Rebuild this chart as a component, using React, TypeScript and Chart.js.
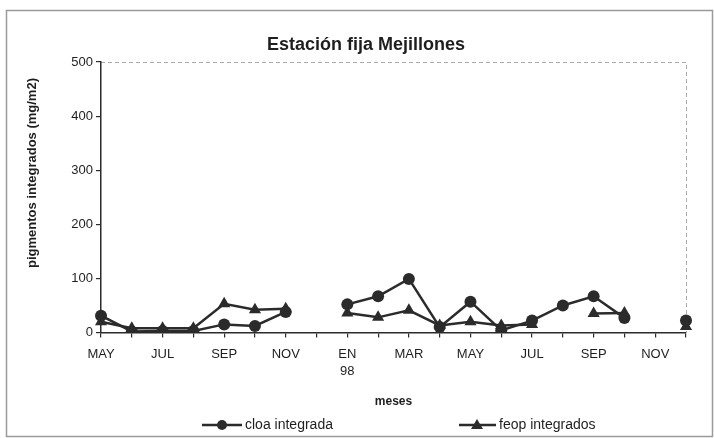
import React, { useEffect, useRef } from 'react';
import { Chart, registerables } from 'chart.js';
Chart.register(...registerables);

const FONT = '"Liberation Sans", Arial, sans-serif';

const TITLE = 'Estación fija Mejillones';
const Y_TITLE = 'pigmentos integrados (mg/m2)';
const X_TITLE = 'meses';

const months: (string | string[])[] = [
  'MAY', '', 'JUL', '', 'SEP', '', 'NOV', '', ['EN', '98'], '',
  'MAR', '', 'MAY', '', 'JUL', '', 'SEP', '', 'NOV', '',
];

const cloaLabel = 'cloa integrada';
const feopLabel = 'feop integrados';

const cloa = [31, 2, 3, 3, 15, 12, 38, null, 52, 67, 99, 10, 57, 4, 22, 50, 67, 27, null, 22];
const feop = [20, 8, 8, 8, 53, 42, 44, null, 36, 28, 41, 13, 20, 13, 15, null, 35, 36, null, 11];

const yMin = 0;
const yMax = 500;
const yStep = 100;

const INK = '#2b2b2b';

const decorPlugin = {
  id: 'decor',
  beforeDraw(chart: any) {
    const { ctx, chartArea } = chart;
    ctx.save();
    ctx.fillStyle = '#ffffff';
    ctx.fillRect(0, 0, chart.width, chart.height);
    // outer frame
    ctx.strokeStyle = '#9a9a9a';
    ctx.lineWidth = 1.5;
    ctx.strokeRect(6.5, 10.5, 706, 426);
    // plot frame (top and right)
    ctx.strokeStyle = '#aaaaaa';
    ctx.lineWidth = 1;
    ctx.setLineDash([4, 3]);
    ctx.beginPath();
    ctx.moveTo(chartArea.left, Math.round(chartArea.top) + 0.5);
    ctx.lineTo(Math.round(chartArea.right) + 0.5, Math.round(chartArea.top) + 0.5);
    ctx.lineTo(Math.round(chartArea.right) + 0.5, chartArea.bottom);
    ctx.stroke();
    ctx.setLineDash([]);
    ctx.restore();
  },
  afterDraw(chart: any) {
    const { ctx } = chart;
    ctx.save();
    // title
    ctx.fillStyle = '#1e1e1e';
    ctx.font = `bold 18px ${FONT}`;
    ctx.textAlign = 'center';
    ctx.textBaseline = 'middle';
    ctx.fillText(TITLE, 366, 45);
    // y title
    ctx.save();
    ctx.translate(32, 173);
    ctx.rotate(-Math.PI / 2);
    ctx.font = `bold 13px ${FONT}`;
    ctx.fillText(Y_TITLE, 0, 0);
    ctx.restore();
    // legend
    const ly = 425;
    ctx.strokeStyle = INK;
    ctx.fillStyle = INK;
    ctx.lineWidth = 2.5;
    // item 1
    ctx.beginPath();
    ctx.moveTo(202, ly);
    ctx.lineTo(242, ly);
    ctx.stroke();
    ctx.beginPath();
    ctx.arc(222, ly, 5, 0, Math.PI * 2);
    ctx.fill();
    // item 2
    ctx.beginPath();
    ctx.moveTo(459, ly);
    ctx.lineTo(496, ly);
    ctx.stroke();
    ctx.beginPath();
    ctx.moveTo(477, ly - 6);
    ctx.lineTo(483, ly + 4);
    ctx.lineTo(471, ly + 4);
    ctx.closePath();
    ctx.fill();
    ctx.fillStyle = '#1e1e1e';
    ctx.font = `14px ${FONT}`;
    ctx.textAlign = 'left';
    ctx.fillText(cloaLabel, 245, ly);
    ctx.fillText(feopLabel, 499, ly);
    ctx.restore();
  },
};

export default function App() {
  const ref = useRef<HTMLCanvasElement>(null);
  useEffect(() => {
    const chart = new Chart(ref.current!, {
      type: 'line',
      data: {
        labels: months as any,
        datasets: [
          {
            label: cloaLabel,
            data: cloa,
            borderColor: INK,
            backgroundColor: INK,
            borderWidth: 2.5,
            pointStyle: 'circle',
            pointRadius: 6,
            pointBorderWidth: 0,
            spanGaps: false,
            tension: 0,
          },
          {
            label: feopLabel,
            data: feop,
            borderColor: INK,
            backgroundColor: INK,
            borderWidth: 2.5,
            pointStyle: 'triangle',
            pointRadius: 7,
            pointBorderWidth: 0,
            spanGaps: false,
            tension: 0,
          },
        ],
      },
      options: {
        responsive: false,
        animation: false,
        layout: { padding: { left: 0, right: 28, top: 62, bottom: 25 } },
        plugins: {
          legend: { display: false },
          title: { display: false },
          tooltip: { enabled: false },
        },
        scales: {
          x: {
            type: 'category',
            offset: false,
            grid: { drawOnChartArea: false, drawTicks: true, tickLength: 5, color: INK, lineWidth: 1.2 },
            border: { color: INK, width: 1.5 },
            ticks: {
              autoSkip: false,
              maxRotation: 0,
              minRotation: 0,
              padding: 8,
              color: '#1e1e1e',
              font: { family: FONT, size: 13, lineHeight: 1.35 },
            },
            title: {
              display: true,
              text: X_TITLE,
              color: '#1e1e1e',
              font: { family: FONT, size: 12, weight: 'bold' },
              padding: { top: 14, bottom: 4 },
            },
            afterFit: (s: any) => { s.height = 80.5; },
          },
          y: {
            min: yMin,
            max: yMax,
            grid: { drawOnChartArea: false, drawTicks: true, tickLength: 5, color: INK, lineWidth: 1.2 },
            border: { color: INK, width: 1.5 },
            ticks: {
              stepSize: yStep,
              padding: 3,
              color: '#1e1e1e',
              font: { family: FONT, size: 13 },
            },
            afterFit: (s: any) => { s.width = 101; },
          },
        },
      },
      plugins: [decorPlugin],
    });
    return () => chart.destroy();
  }, []);
  return (
    <div style={{ position: 'fixed', left: 0, top: 0, width: 714, height: 438, background: '#fff' }}>
      <canvas ref={ref} width={714} height={438} style={{ display: 'block' }} />
    </div>
  );
}
